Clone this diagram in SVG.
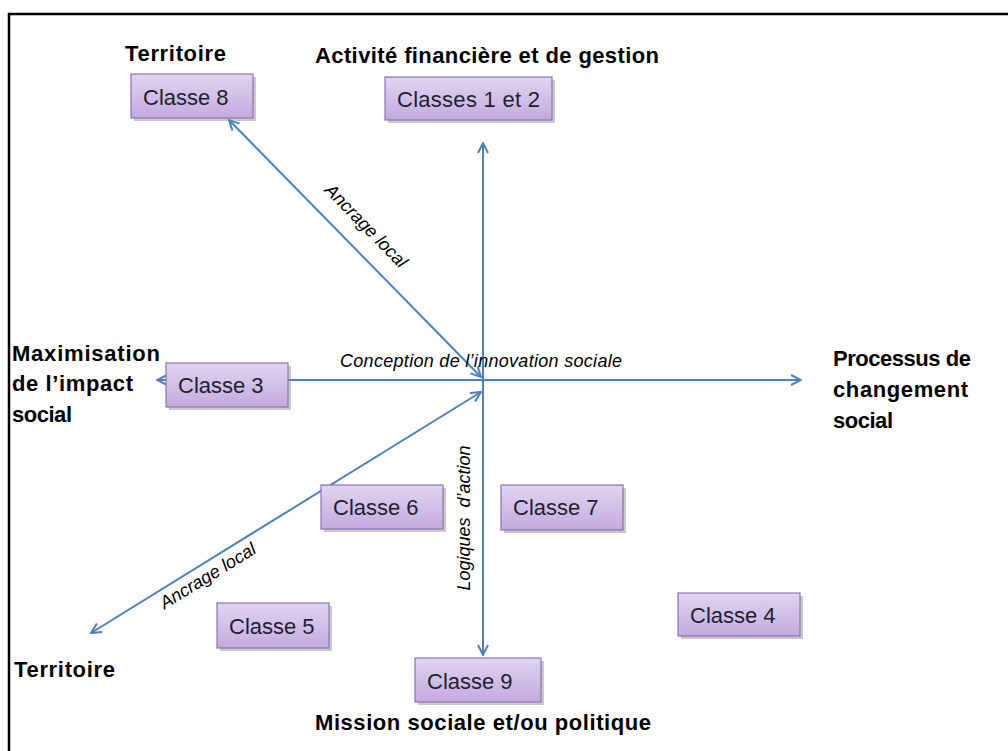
<svg xmlns="http://www.w3.org/2000/svg" width="1008" height="751" viewBox="0 0 1008 751">
<defs>
<linearGradient id="boxg" x1="0" y1="0" x2="0" y2="1">
<stop offset="0" stop-color="#e0d5f0"/>
<stop offset="1" stop-color="#c3aadf"/>
</linearGradient>
<marker id="ah" viewBox="0 0 12 12" markerWidth="12" markerHeight="12" refX="11" refY="6" orient="auto-start-reverse" markerUnits="userSpaceOnUse">
<path d="M1,1 L11,6 L1,11" fill="none" stroke="#4f81bd" stroke-width="2"/>
</marker>
</defs>
<style>
.lbl{font-family:"Liberation Sans",Arial,sans-serif;font-weight:bold;font-size:22px;fill:#000}
.bt{font-family:"Liberation Sans",Arial,sans-serif;font-size:22px;fill:#1f1f2e}
.it{font-family:"Liberation Sans",Arial,sans-serif;font-style:italic;font-size:18px;fill:#000}
.box{fill:url(#boxg);stroke:#8c72b0;stroke-width:1.2}
.sh{fill:#888;opacity:0.45}
.ax{stroke:#4f81bd;stroke-width:2;fill:none;marker-start:url(#ah);marker-end:url(#ah)}
</style>
<rect width="1008" height="751" fill="#fff"/>
<path d="M9,751 V14 H1008" fill="none" stroke="#000" stroke-width="2.5"/>

<g id="connectors">
<line class="ax" x1="157" y1="380" x2="801" y2="380"/>
<line class="ax" x1="483" y1="143" x2="483" y2="655"/>
<line class="ax" x1="229" y1="120" x2="481" y2="377"/>
<line class="ax" x1="91" y1="633" x2="481" y2="392"/>
</g>

<g id="axis-labels">
<text class="it" x="481" y="367" text-anchor="middle" textLength="282">Conception de l’innovation sociale</text>
<text class="it" transform="translate(362,230) rotate(45.6)" text-anchor="middle">Ancrage local</text>
<text class="it" transform="translate(211,581) rotate(-31.5)" text-anchor="middle">Ancrage local</text>
<text class="it" transform="translate(470,518) rotate(-90)" text-anchor="middle" xml:space="preserve">Logiques  d’action</text>
</g>

<g id="pole-labels">
<text class="lbl" x="125" y="61" textLength="101">Territoire</text>
<text class="lbl" x="315" y="63" textLength="344">Activité financière et de gestion</text>
<text class="lbl" x="12" y="361" textLength="148">Maximisation</text>
<text class="lbl" x="12" y="391" textLength="121">de l’impact</text>
<text class="lbl" x="12" y="422" textLength="60">social</text>
<text class="lbl" x="833" y="366" textLength="138">Processus de</text>
<text class="lbl" x="833" y="397" textLength="135">changement</text>
<text class="lbl" x="833" y="428" textLength="60">social</text>
<text class="lbl" x="14" y="677" textLength="101">Territoire</text>
<text class="lbl" x="315" y="730" textLength="336">Mission sociale et/ou politique</text>
</g>

<g id="classe8"><rect class="sh" x="134" y="77" width="122" height="44"/><rect class="box" x="131" y="74" width="122" height="44"/><text class="bt" x="143" y="105">Classe 8</text></g>
<g id="classes12"><rect class="sh" x="388" y="80" width="167" height="43"/><rect class="box" x="385" y="77" width="167" height="43"/><text class="bt" x="397" y="107" textLength="143">Classes 1 et 2</text></g>
<g id="classe3"><rect class="sh" x="169" y="366" width="122" height="44"/><rect class="box" x="166" y="363" width="122" height="44"/><text class="bt" x="178" y="393">Classe 3</text></g>
<g id="classe6"><rect class="sh" x="324" y="488" width="122" height="44"/><rect class="box" x="321" y="485" width="122" height="44"/><text class="bt" x="333" y="515">Classe 6</text></g>
<g id="classe7"><rect class="sh" x="504" y="488" width="122" height="45"/><rect class="box" x="501" y="485" width="122" height="45"/><text class="bt" x="513" y="515">Classe 7</text></g>
<g id="classe5"><rect class="sh" x="220" y="606" width="112" height="45"/><rect class="box" x="217" y="603" width="112" height="45"/><text class="bt" x="229" y="634">Classe 5</text></g>
<g id="classe4"><rect class="sh" x="681" y="596" width="122" height="43"/><rect class="box" x="678" y="593" width="122" height="43"/><text class="bt" x="690" y="623">Classe 4</text></g>
<g id="classe9"><rect class="sh" x="418" y="661" width="126" height="44"/><rect class="box" x="415" y="658" width="126" height="44"/><text class="bt" x="427" y="689">Classe 9</text></g>
</svg>
